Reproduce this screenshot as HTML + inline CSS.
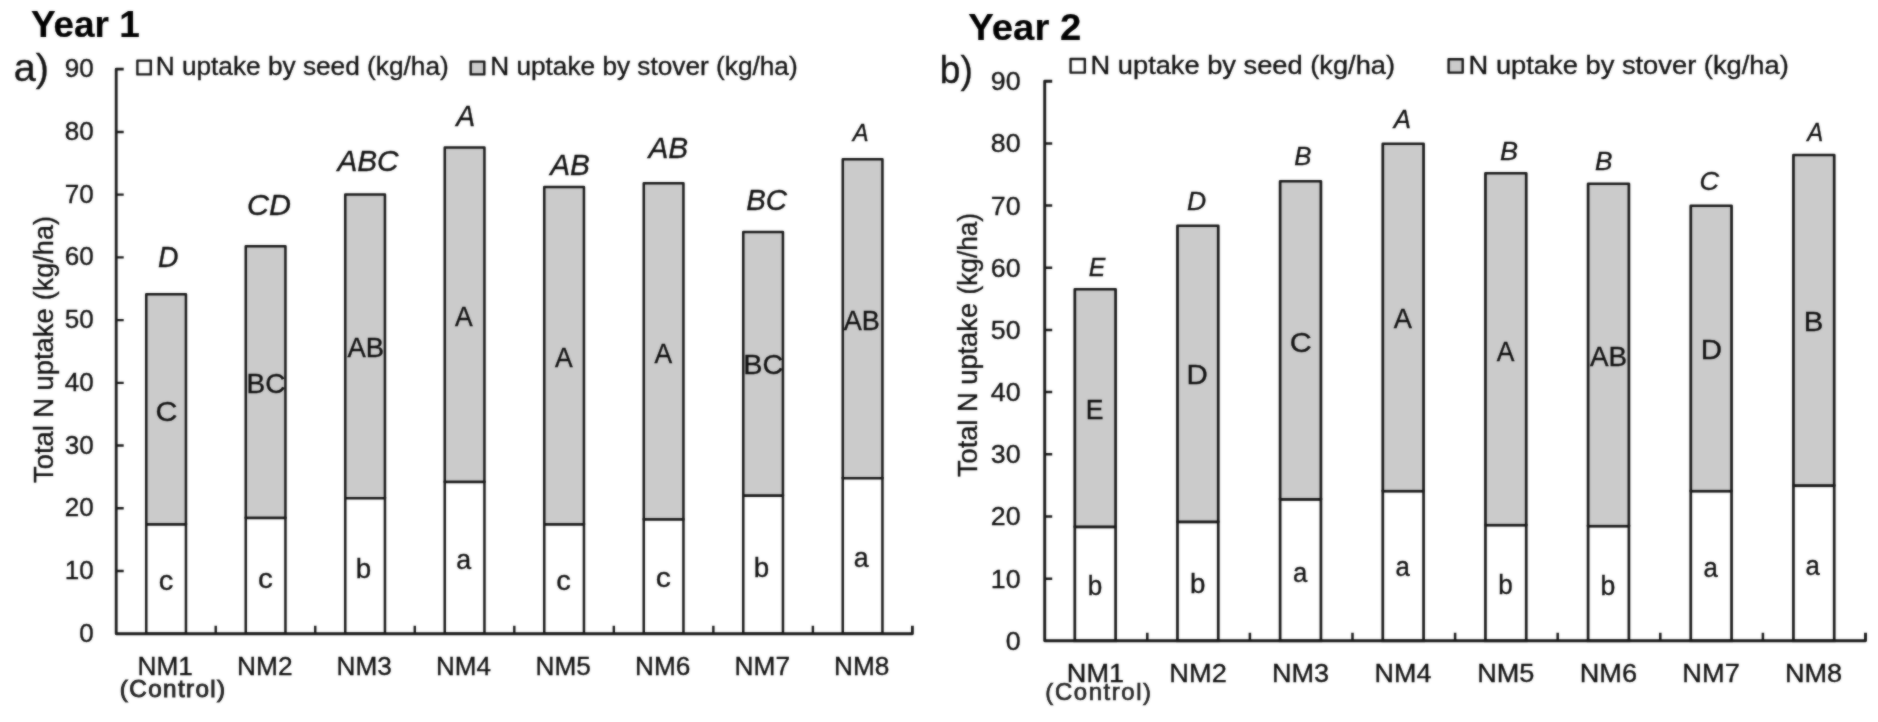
<!DOCTYPE html>
<html><head><meta charset="utf-8"><title>Total N uptake</title>
<style>
html,body{margin:0;padding:0;background:#fff;}
body{width:1878px;height:722px;overflow:hidden;}
svg{display:block;}
svg text{font-family:"Liberation Sans",Arial,Helvetica,sans-serif;white-space:pre;}
</style></head><body>
<svg width="1878" height="722" viewBox="0 0 1878 722">
<defs><filter id="soft" x="0" y="0" width="1878" height="722" filterUnits="userSpaceOnUse" color-interpolation-filters="sRGB"><feGaussianBlur in="SourceGraphic" stdDeviation="0.8" result="b"/><feComposite in="SourceGraphic" in2="b" operator="arithmetic" k1="0" k2="0.45" k3="0.55" k4="0"/></filter></defs>
<rect width="1878" height="722" fill="#ffffff"/>
<g filter="url(#soft)">
<rect x="146.25" y="294.25" width="39.70" height="230.25" fill="#cbcbcb" stroke="#181818" stroke-width="2.5" stroke-linejoin="round"/>
<rect x="146.25" y="524.50" width="39.70" height="109.25" fill="#ffffff" stroke="#181818" stroke-width="2.5"/>
<rect x="245.75" y="246.25" width="39.70" height="271.75" fill="#cbcbcb" stroke="#181818" stroke-width="2.5" stroke-linejoin="round"/>
<rect x="245.75" y="518.00" width="39.70" height="115.75" fill="#ffffff" stroke="#181818" stroke-width="2.5"/>
<rect x="345.25" y="194.50" width="39.70" height="303.75" fill="#cbcbcb" stroke="#181818" stroke-width="2.5" stroke-linejoin="round"/>
<rect x="345.25" y="498.25" width="39.70" height="135.50" fill="#ffffff" stroke="#181818" stroke-width="2.5"/>
<rect x="444.75" y="147.50" width="39.70" height="334.50" fill="#cbcbcb" stroke="#181818" stroke-width="2.5" stroke-linejoin="round"/>
<rect x="444.75" y="482.00" width="39.70" height="151.75" fill="#ffffff" stroke="#181818" stroke-width="2.5"/>
<rect x="544.25" y="187.00" width="39.70" height="337.50" fill="#cbcbcb" stroke="#181818" stroke-width="2.5" stroke-linejoin="round"/>
<rect x="544.25" y="524.50" width="39.70" height="109.25" fill="#ffffff" stroke="#181818" stroke-width="2.5"/>
<rect x="643.75" y="183.25" width="39.70" height="336.25" fill="#cbcbcb" stroke="#181818" stroke-width="2.5" stroke-linejoin="round"/>
<rect x="643.75" y="519.50" width="39.70" height="114.25" fill="#ffffff" stroke="#181818" stroke-width="2.5"/>
<rect x="743.25" y="232.00" width="39.70" height="263.75" fill="#cbcbcb" stroke="#181818" stroke-width="2.5" stroke-linejoin="round"/>
<rect x="743.25" y="495.75" width="39.70" height="138.00" fill="#ffffff" stroke="#181818" stroke-width="2.5"/>
<rect x="842.75" y="159.25" width="39.70" height="319.00" fill="#cbcbcb" stroke="#181818" stroke-width="2.5" stroke-linejoin="round"/>
<rect x="842.75" y="478.25" width="39.70" height="155.50" fill="#ffffff" stroke="#181818" stroke-width="2.5"/>
<path d="M123.70,69.20 H116.20 V633.75 H912.40 v-8" fill="none" stroke="#181818" stroke-width="2.8" stroke-linejoin="round"/>
<path d="M116.20,571.02 h7.5 M116.20,508.29 h7.5 M116.20,445.57 h7.5 M116.20,382.84 h7.5 M116.20,320.11 h7.5 M116.20,257.38 h7.5 M116.20,194.65 h7.5 M116.20,131.93 h7.5 M215.73,633.75 v-8 M315.25,633.75 v-8 M414.78,633.75 v-8 M514.30,633.75 v-8 M613.83,633.75 v-8 M713.35,633.75 v-8 M812.88,633.75 v-8 " fill="none" stroke="#181818" stroke-width="2.4"/>
<text transform="translate(79.30,641.75) scale(1.0000,1)" font-size="26" stroke="#101010" stroke-width="0.35" fill="#101010">0</text>
<text transform="translate(64.80,579.02) scale(1.0000,1)" font-size="26" stroke="#101010" stroke-width="0.35" fill="#101010">10</text>
<text transform="translate(64.80,516.29) scale(1.0000,1)" font-size="26" stroke="#101010" stroke-width="0.35" fill="#101010">20</text>
<text transform="translate(64.80,453.57) scale(1.0000,1)" font-size="26" stroke="#101010" stroke-width="0.35" fill="#101010">30</text>
<text transform="translate(64.80,390.84) scale(1.0000,1)" font-size="26" stroke="#101010" stroke-width="0.35" fill="#101010">40</text>
<text transform="translate(64.80,328.11) scale(1.0000,1)" font-size="26" stroke="#101010" stroke-width="0.35" fill="#101010">50</text>
<text transform="translate(64.80,265.38) scale(1.0000,1)" font-size="26" stroke="#101010" stroke-width="0.35" fill="#101010">60</text>
<text transform="translate(64.80,202.65) scale(1.0000,1)" font-size="26" stroke="#101010" stroke-width="0.35" fill="#101010">70</text>
<text transform="translate(64.80,139.93) scale(1.0000,1)" font-size="26" stroke="#101010" stroke-width="0.35" fill="#101010">80</text>
<text transform="translate(64.80,77.20) scale(1.0000,1)" font-size="26" stroke="#101010" stroke-width="0.35" fill="#101010">90</text>
<text transform="translate(53.00,482.93) rotate(-90) scale(1.0001,1)" font-size="27.3" fill="#101010" stroke="#101010" stroke-width="0.35">Total N uptake</text>
<text transform="translate(53.00,300.13) rotate(-90) scale(0.9892,1)" font-size="27.3" fill="#101010" stroke="#101010" stroke-width="0.35">(kg/ha)</text>
<rect x="137.4" y="60.6" width="13.4" height="13.8" fill="#fff" stroke="#181818" stroke-width="2.4" stroke-linejoin="round"/>
<text transform="translate(155.66,75.40) scale(1.0092,1)" font-size="26" stroke="#101010" stroke-width="0.35" fill="#101010">N uptake by seed (kg/ha)</text>
<rect x="470.7" y="61.6" width="13.6" height="12.8" fill="#cbcbcb" stroke="#181818" stroke-width="2.4" stroke-linejoin="round"/>
<text transform="translate(490.16,75.40) scale(1.0086,1)" font-size="26" stroke="#101010" stroke-width="0.35" fill="#101010">N uptake by stover (kg/ha)</text>
<text transform="translate(30.88,37.00) scale(0.9993,1)" font-size="37" font-weight="bold" stroke="#000" stroke-width="0.2" fill="#000">Year 1</text>
<text transform="translate(13.81,81.00) scale(1.0420,1)" font-size="38" stroke="#111" stroke-width="0.35" fill="#111">a)</text>
<text transform="translate(157.91,267.00) scale(0.9615,1)" font-size="29.5" font-style="italic" stroke="#101010" stroke-width="0.35" fill="#101010">D</text>
<text transform="translate(247.07,214.50) scale(1.0312,1)" font-size="29.5" font-style="italic" stroke="#101010" stroke-width="0.35" fill="#101010">CD</text>
<text transform="translate(337.39,171.25) scale(1.0101,1)" font-size="29.5" font-style="italic" stroke="#101010" stroke-width="0.35" fill="#101010">ABC</text>
<text transform="translate(456.32,126.25) scale(0.9615,1)" font-size="29.5" font-style="italic" stroke="#101010" stroke-width="0.35" fill="#101010">A</text>
<text transform="translate(550.14,175.00) scale(1.0095,1)" font-size="29.5" font-style="italic" stroke="#101010" stroke-width="0.35" fill="#101010">AB</text>
<text transform="translate(648.39,158.25) scale(1.0095,1)" font-size="29.5" font-style="italic" stroke="#101010" stroke-width="0.35" fill="#101010">AB</text>
<text transform="translate(746.13,209.50) scale(0.9969,1)" font-size="29.5" font-style="italic" stroke="#101010" stroke-width="0.35" fill="#101010">BC</text>
<text transform="translate(852.87,141.25) scale(0.9921,1)" font-size="24" font-style="italic" stroke="#101010" stroke-width="0.35" fill="#101010">A</text>
<text transform="translate(155.51,420.50) scale(1.0845,1)" font-size="28" stroke="#101010" stroke-width="0.35" fill="#101010">C</text>
<text transform="translate(246.50,393.00) scale(1.0000,1)" font-size="28" stroke="#101010" stroke-width="0.35" fill="#101010">BC</text>
<text transform="translate(347.38,356.75) scale(0.9790,1)" font-size="28" stroke="#101010" stroke-width="0.35" fill="#101010">AB</text>
<text transform="translate(454.88,325.50) scale(0.9459,1)" font-size="28" stroke="#101010" stroke-width="0.35" fill="#101010">A</text>
<text transform="translate(554.88,367.00) scale(0.9459,1)" font-size="28" stroke="#101010" stroke-width="0.35" fill="#101010">A</text>
<text transform="translate(654.38,363.25) scale(0.9459,1)" font-size="28" stroke="#101010" stroke-width="0.35" fill="#101010">A</text>
<text transform="translate(743.19,374.30) scale(1.0282,1)" font-size="28" stroke="#101010" stroke-width="0.35" fill="#101010">BC</text>
<text transform="translate(843.63,329.50) scale(0.9650,1)" font-size="28" stroke="#101010" stroke-width="0.35" fill="#101010">AB</text>
<text transform="translate(158.70,589.80) scale(1.0417,1)" font-size="28" stroke="#101010" stroke-width="0.35" fill="#101010">c</text>
<text transform="translate(257.92,588.00) scale(1.0625,1)" font-size="28" stroke="#101010" stroke-width="0.35" fill="#101010">c</text>
<text transform="translate(355.77,578.25) scale(0.9901,1)" font-size="28" stroke="#101010" stroke-width="0.35" fill="#101010">b</text>
<text transform="translate(456.30,568.50) scale(0.9565,1)" font-size="28" stroke="#101010" stroke-width="0.35" fill="#101010">a</text>
<text transform="translate(556.20,589.80) scale(1.0417,1)" font-size="28" stroke="#101010" stroke-width="0.35" fill="#101010">c</text>
<text transform="translate(655.65,587.30) scale(1.0833,1)" font-size="28" stroke="#101010" stroke-width="0.35" fill="#101010">c</text>
<text transform="translate(753.77,576.75) scale(0.9901,1)" font-size="28" stroke="#101010" stroke-width="0.35" fill="#101010">b</text>
<text transform="translate(853.80,567.30) scale(0.9565,1)" font-size="28" stroke="#101010" stroke-width="0.35" fill="#101010">a</text>
<text transform="translate(137.50,675.00) scale(1.0097,1)" font-size="26" stroke="#101010" stroke-width="0.35" fill="#101010">NM1</text>
<text transform="translate(237.00,675.00) scale(1.0122,1)" font-size="26" stroke="#101010" stroke-width="0.35" fill="#101010">NM2</text>
<text transform="translate(336.51,675.00) scale(1.0073,1)" font-size="26" stroke="#101010" stroke-width="0.35" fill="#101010">NM3</text>
<text transform="translate(436.02,675.00) scale(1.0000,1)" font-size="26" stroke="#101010" stroke-width="0.35" fill="#101010">NM4</text>
<text transform="translate(535.51,675.00) scale(1.0073,1)" font-size="26" stroke="#101010" stroke-width="0.35" fill="#101010">NM5</text>
<text transform="translate(635.01,675.00) scale(1.0073,1)" font-size="26" stroke="#101010" stroke-width="0.35" fill="#101010">NM6</text>
<text transform="translate(734.50,675.00) scale(1.0122,1)" font-size="26" stroke="#101010" stroke-width="0.35" fill="#101010">NM7</text>
<text transform="translate(834.01,675.00) scale(1.0073,1)" font-size="26" stroke="#101010" stroke-width="0.35" fill="#101010">NM8</text>
<text transform="translate(119.85,696.50) scale(1.0554,1)" font-size="23" stroke="#222" stroke-width="0.9" letter-spacing="1.3" fill="#222">(Control)</text>
<rect x="1074.80" y="289.25" width="40.80" height="237.75" fill="#cbcbcb" stroke="#181818" stroke-width="2.7" stroke-linejoin="round"/>
<rect x="1074.80" y="527.00" width="40.80" height="113.80" fill="#ffffff" stroke="#181818" stroke-width="2.7"/>
<rect x="1177.46" y="225.75" width="40.80" height="296.25" fill="#cbcbcb" stroke="#181818" stroke-width="2.7" stroke-linejoin="round"/>
<rect x="1177.46" y="522.00" width="40.80" height="118.80" fill="#ffffff" stroke="#181818" stroke-width="2.7"/>
<rect x="1280.12" y="181.25" width="40.80" height="318.25" fill="#cbcbcb" stroke="#181818" stroke-width="2.7" stroke-linejoin="round"/>
<rect x="1280.12" y="499.50" width="40.80" height="141.30" fill="#ffffff" stroke="#181818" stroke-width="2.7"/>
<rect x="1382.78" y="143.75" width="40.80" height="347.50" fill="#cbcbcb" stroke="#181818" stroke-width="2.7" stroke-linejoin="round"/>
<rect x="1382.78" y="491.25" width="40.80" height="149.55" fill="#ffffff" stroke="#181818" stroke-width="2.7"/>
<rect x="1485.44" y="173.25" width="40.80" height="352.00" fill="#cbcbcb" stroke="#181818" stroke-width="2.7" stroke-linejoin="round"/>
<rect x="1485.44" y="525.25" width="40.80" height="115.55" fill="#ffffff" stroke="#181818" stroke-width="2.7"/>
<rect x="1588.10" y="183.75" width="40.80" height="342.50" fill="#cbcbcb" stroke="#181818" stroke-width="2.7" stroke-linejoin="round"/>
<rect x="1588.10" y="526.25" width="40.80" height="114.55" fill="#ffffff" stroke="#181818" stroke-width="2.7"/>
<rect x="1690.76" y="205.75" width="40.80" height="285.50" fill="#cbcbcb" stroke="#181818" stroke-width="2.7" stroke-linejoin="round"/>
<rect x="1690.76" y="491.25" width="40.80" height="149.55" fill="#ffffff" stroke="#181818" stroke-width="2.7"/>
<rect x="1793.42" y="155.00" width="40.80" height="330.75" fill="#cbcbcb" stroke="#181818" stroke-width="2.7" stroke-linejoin="round"/>
<rect x="1793.42" y="485.75" width="40.80" height="155.05" fill="#ffffff" stroke="#181818" stroke-width="2.7"/>
<path d="M1052.20,81.27 H1044.70 V640.80 H1865.50 v-8" fill="none" stroke="#181818" stroke-width="2.9" stroke-linejoin="round"/>
<path d="M1044.70,578.63 h7.5 M1044.70,516.46 h7.5 M1044.70,454.29 h7.5 M1044.70,392.12 h7.5 M1044.70,329.95 h7.5 M1044.70,267.78 h7.5 M1044.70,205.61 h7.5 M1044.70,143.44 h7.5 M1147.30,640.80 v-8 M1249.90,640.80 v-8 M1352.50,640.80 v-8 M1455.10,640.80 v-8 M1557.70,640.80 v-8 M1660.30,640.80 v-8 M1762.90,640.80 v-8 " fill="none" stroke="#181818" stroke-width="2.5"/>
<text transform="translate(1005.70,649.70) scale(1.0300,1)" font-size="26" stroke="#101010" stroke-width="0.35" fill="#101010">0</text>
<text transform="translate(990.76,587.53) scale(1.0300,1)" font-size="26" stroke="#101010" stroke-width="0.35" fill="#101010">10</text>
<text transform="translate(990.76,525.36) scale(1.0300,1)" font-size="26" stroke="#101010" stroke-width="0.35" fill="#101010">20</text>
<text transform="translate(990.76,463.19) scale(1.0300,1)" font-size="26" stroke="#101010" stroke-width="0.35" fill="#101010">30</text>
<text transform="translate(990.76,401.02) scale(1.0300,1)" font-size="26" stroke="#101010" stroke-width="0.35" fill="#101010">40</text>
<text transform="translate(990.76,338.85) scale(1.0300,1)" font-size="26" stroke="#101010" stroke-width="0.35" fill="#101010">50</text>
<text transform="translate(990.76,276.68) scale(1.0300,1)" font-size="26" stroke="#101010" stroke-width="0.35" fill="#101010">60</text>
<text transform="translate(990.76,214.51) scale(1.0300,1)" font-size="26" stroke="#101010" stroke-width="0.35" fill="#101010">70</text>
<text transform="translate(990.76,152.34) scale(1.0300,1)" font-size="26" stroke="#101010" stroke-width="0.35" fill="#101010">80</text>
<text transform="translate(990.76,90.17) scale(1.0300,1)" font-size="26" stroke="#101010" stroke-width="0.35" fill="#101010">90</text>
<text transform="translate(977.30,477.12) rotate(-90) scale(0.9984,1)" font-size="27.3" fill="#101010" stroke="#101010" stroke-width="0.35">Total N uptake</text>
<text transform="translate(977.30,294.58) rotate(-90) scale(0.9622,1)" font-size="27.3" fill="#101010" stroke="#101010" stroke-width="0.35">(kg/ha)</text>
<rect x="1070.6" y="59" width="14.2" height="13.6" fill="#fff" stroke="#181818" stroke-width="2.4" stroke-linejoin="round"/>
<text transform="translate(1090.57,74.40) scale(1.0486,1)" font-size="26" stroke="#101010" stroke-width="0.35" fill="#101010">N uptake by seed (kg/ha)</text>
<rect x="1448.6" y="59.2" width="14.1" height="13.4" fill="#cbcbcb" stroke="#181818" stroke-width="2.4" stroke-linejoin="round"/>
<text transform="translate(1468.57,74.40) scale(1.0507,1)" font-size="26" stroke="#101010" stroke-width="0.35" fill="#101010">N uptake by stover (kg/ha)</text>
<text transform="translate(968.35,40.25) scale(1.0355,1)" font-size="37" font-weight="bold" stroke="#000" stroke-width="0.2" fill="#000">Year 2</text>
<text transform="translate(939.76,82.50) scale(0.9766,1)" font-size="38" stroke="#111" stroke-width="0.35" fill="#111">b)</text>
<text transform="translate(1088.66,275.75) scale(0.9552,1)" font-size="26" font-style="italic" stroke="#101010" stroke-width="0.35" fill="#101010">E</text>
<text transform="translate(1187.11,210.00) scale(1.0219,1)" font-size="26" font-style="italic" stroke="#101010" stroke-width="0.35" fill="#101010">D</text>
<text transform="translate(1294.13,165.00) scale(0.9920,1)" font-size="26" font-style="italic" stroke="#101010" stroke-width="0.35" fill="#101010">B</text>
<text transform="translate(1393.74,128.00) scale(0.9927,1)" font-size="26" font-style="italic" stroke="#101010" stroke-width="0.35" fill="#101010">A</text>
<text transform="translate(1500.09,160.00) scale(1.0400,1)" font-size="26" font-style="italic" stroke="#101010" stroke-width="0.35" fill="#101010">B</text>
<text transform="translate(1595.12,170.00) scale(1.0080,1)" font-size="26" font-style="italic" stroke="#101010" stroke-width="0.35" fill="#101010">B</text>
<text transform="translate(1699.57,190.00) scale(1.0429,1)" font-size="26" font-style="italic" stroke="#101010" stroke-width="0.35" fill="#101010">C</text>
<text transform="translate(1807.15,141.25) scale(0.9197,1)" font-size="26" font-style="italic" stroke="#101010" stroke-width="0.35" fill="#101010">A</text>
<text transform="translate(1085.86,418.75) scale(0.9508,1)" font-size="28" stroke="#101010" stroke-width="0.35" fill="#101010">E</text>
<text transform="translate(1186.38,384.25) scale(1.0526,1)" font-size="28" stroke="#101010" stroke-width="0.35" fill="#101010">D</text>
<text transform="translate(1289.76,352.30) scale(1.0845,1)" font-size="28" stroke="#101010" stroke-width="0.35" fill="#101010">C</text>
<text transform="translate(1393.63,328.25) scale(0.9730,1)" font-size="28" stroke="#101010" stroke-width="0.35" fill="#101010">A</text>
<text transform="translate(1496.63,360.50) scale(0.9459,1)" font-size="28" stroke="#101010" stroke-width="0.35" fill="#101010">A</text>
<text transform="translate(1589.88,365.75) scale(0.9930,1)" font-size="28" stroke="#101010" stroke-width="0.35" fill="#101010">AB</text>
<text transform="translate(1700.63,359.25) scale(1.0526,1)" font-size="28" stroke="#101010" stroke-width="0.35" fill="#101010">D</text>
<text transform="translate(1803.64,331.25) scale(1.0500,1)" font-size="28" stroke="#101010" stroke-width="0.35" fill="#101010">B</text>
<text transform="translate(1087.87,595.00) scale(0.9307,1)" font-size="28" stroke="#101010" stroke-width="0.35" fill="#101010">b</text>
<text transform="translate(1190.02,592.50) scale(0.9901,1)" font-size="28" stroke="#101010" stroke-width="0.35" fill="#101010">b</text>
<text transform="translate(1293.10,581.50) scale(0.9217,1)" font-size="28" stroke="#101010" stroke-width="0.35" fill="#101010">a</text>
<text transform="translate(1395.60,576.00) scale(0.9217,1)" font-size="28" stroke="#101010" stroke-width="0.35" fill="#101010">a</text>
<text transform="translate(1498.37,593.75) scale(0.9307,1)" font-size="28" stroke="#101010" stroke-width="0.35" fill="#101010">b</text>
<text transform="translate(1600.59,595.00) scale(0.9505,1)" font-size="28" stroke="#101010" stroke-width="0.35" fill="#101010">b</text>
<text transform="translate(1703.60,576.80) scale(0.9217,1)" font-size="28" stroke="#101010" stroke-width="0.35" fill="#101010">a</text>
<text transform="translate(1805.60,574.80) scale(0.9217,1)" font-size="28" stroke="#101010" stroke-width="0.35" fill="#101010">a</text>
<text transform="translate(1066.78,681.50) scale(1.0447,1)" font-size="26" stroke="#101010" stroke-width="0.35" fill="#101010">NM1</text>
<text transform="translate(1169.37,681.50) scale(1.0472,1)" font-size="26" stroke="#101010" stroke-width="0.35" fill="#101010">NM2</text>
<text transform="translate(1271.99,681.50) scale(1.0421,1)" font-size="26" stroke="#101010" stroke-width="0.35" fill="#101010">NM3</text>
<text transform="translate(1374.60,681.50) scale(1.0346,1)" font-size="26" stroke="#101010" stroke-width="0.35" fill="#101010">NM4</text>
<text transform="translate(1477.19,681.50) scale(1.0421,1)" font-size="26" stroke="#101010" stroke-width="0.35" fill="#101010">NM5</text>
<text transform="translate(1579.79,681.50) scale(1.0421,1)" font-size="26" stroke="#101010" stroke-width="0.35" fill="#101010">NM6</text>
<text transform="translate(1682.37,681.50) scale(1.0472,1)" font-size="26" stroke="#101010" stroke-width="0.35" fill="#101010">NM7</text>
<text transform="translate(1784.99,681.50) scale(1.0421,1)" font-size="26" stroke="#101010" stroke-width="0.35" fill="#101010">NM8</text>
<text transform="translate(1045.37,700.00) scale(1.0413,1)" font-size="23" stroke="#222" stroke-width="0.65" letter-spacing="1.5" fill="#222">(Control)</text>
</g>
</svg>
</body></html>
